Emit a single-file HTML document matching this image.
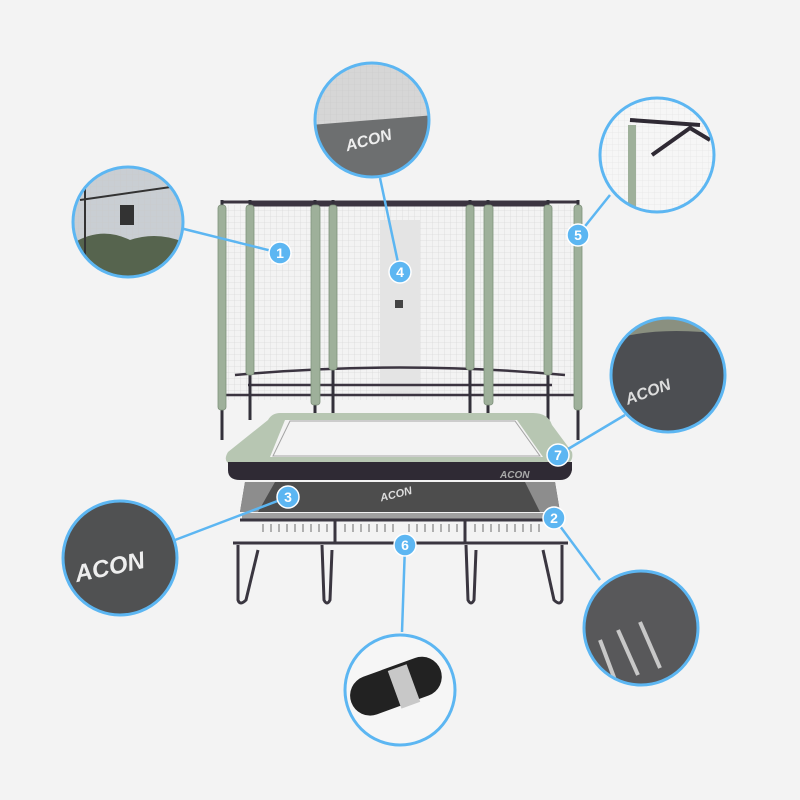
<!DOCTYPE html>
<html><head><style>
html,body{margin:0;padding:0;background:#f3f3f3;}
svg{display:block}
text{font-family:"Liberation Sans",sans-serif;font-weight:bold}
</style></head><body>
<svg width="800" height="800" viewBox="0 0 800 800" xmlns="http://www.w3.org/2000/svg">
<rect width="800" height="800" fill="#f3f3f3"/>
<defs>
<pattern id="net" width="6" height="6" patternUnits="userSpaceOnUse">
<path d="M0 0H6M0 0V6" stroke="#c9c9c9" stroke-width="0.6"/>
</pattern>
<clipPath id="c1"><circle cx="128" cy="222" r="55"/></clipPath>
<clipPath id="c4"><circle cx="372" cy="120" r="57"/></clipPath>
<clipPath id="c5"><circle cx="657" cy="155" r="57"/></clipPath>
<clipPath id="c2"><circle cx="641" cy="628" r="57"/></clipPath>
<clipPath id="c7"><circle cx="668" cy="375" r="57"/></clipPath>
</defs>
<!-- net -->
<polygon points="222,205 578,205 578,400 222,400" fill="url(#net)" opacity="0.8"/>
<rect x="380" y="220" width="40" height="175" fill="#e4e4e4"/>
<rect x="395" y="300" width="8" height="8" fill="#444"/>
<path d="M222,202 L578,202 M250,205 L548,205" stroke="#3b3440" stroke-width="3" fill="none"/>
<path d="M235,375 Q400,360 565,375 M222,395 L578,395 M248,385 L552,385" stroke="#3b3440" stroke-width="2.5" fill="none"/>
<g stroke="#33303a" stroke-width="3">
<line x1="222" y1="200" x2="222" y2="440"/><line x1="250" y1="200" x2="250" y2="420"/>
<line x1="315" y1="200" x2="315" y2="445"/><line x1="333" y1="200" x2="333" y2="420"/>
<line x1="470" y1="200" x2="470" y2="420"/><line x1="488" y1="200" x2="488" y2="445"/>
<line x1="548" y1="200" x2="548" y2="420"/><line x1="578" y1="200" x2="578" y2="440"/>
</g>
<g fill="#9eb09a" stroke="#7e917b" stroke-width="0.8">
<rect x="218" y="205" width="8" height="205" rx="3"/><rect x="246" y="205" width="8" height="170" rx="3"/>
<rect x="311" y="205" width="9" height="200" rx="3"/><rect x="329" y="205" width="8" height="165" rx="3"/>
<rect x="466" y="205" width="8" height="165" rx="3"/><rect x="484" y="205" width="9" height="200" rx="3"/>
<rect x="544" y="205" width="8" height="170" rx="3"/><rect x="574" y="205" width="8" height="205" rx="3"/>
</g>
<!-- pad -->
<path d="M280,413 L533,413 Q548,413 552,425 L572,452 Q574,462 565,465 L232,465 Q222,462 228,452 L268,420 Q272,413 280,413 Z" fill="#b7c6b2"/>
<path d="M285,420 L517,420 L543,457 L270,457 Z" fill="#f3f3f3"/>
<path d="M290,421 L515,421 L540,456 L273,456 Z" fill="none" stroke="#555" stroke-width="1" opacity="0.5"/>
<path d="M228,462 L572,462 L572,470 Q570,480 560,480 L240,480 Q228,480 228,470 Z" fill="#2f2a34"/>
<text x="500" y="478" fill="#aaa" font-size="10" font-style="italic">ACON</text>
<!-- mat -->
<path d="M245,482 L555,482 L560,512 L240,512 Z" fill="#4d4d4d"/>
<path d="M245,482 L275,482 L258,512 L240,512 Z M525,482 L555,482 L560,512 L540,512 Z" fill="#8d8d8d"/>
<text x="380" y="498" fill="#ddd" font-size="11" font-style="italic" transform="rotate(-14 395 495)">ACON</text>
<rect x="242" y="513" width="320" height="6" fill="#a0a0a0"/>
<g stroke="#999" stroke-width="1.5">
<path d="M263,524v8M271,524v8M279,524v8M287,524v8M295,524v8M303,524v8M311,524v8M319,524v8M327,524v8M345,524v8M353,524v8M361,524v8M369,524v8M377,524v8M385,524v8M393,524v8M409,524v8M417,524v8M425,524v8M433,524v8M441,524v8M449,524v8M457,524v8M475,524v8M483,524v8M491,524v8M499,524v8M507,524v8M515,524v8M523,524v8M531,524v8M539,524v8"/>
</g>
<g stroke="#3a3640" stroke-width="3" fill="none">
<path d="M240,520 L560,520"/>
<path d="M233,543 L568,543"/>
<path d="M238,545 L238,600 Q240,606 246,600 L258,550"/>
<path d="M322,545 L324,600 Q327,606 330,600 L332,550"/>
<path d="M466,545 L468,600 Q471,606 474,600 L476,550"/>
<path d="M562,545 L562,600 Q560,606 554,600 L543,550"/>
<path d="M335,520 L335,543 M465,520 L465,543"/>
</g>
<!-- connectors -->
<g stroke="#5cb6f2" stroke-width="2.5" fill="none">
<line x1="180" y1="228" x2="280" y2="253"/>
<line x1="380" y1="178" x2="400" y2="272"/>
<line x1="610" y1="195" x2="578" y2="235"/>
<line x1="625" y1="415" x2="558" y2="455"/>
<line x1="175" y1="540" x2="288" y2="497"/>
<line x1="600" y1="580" x2="554" y2="518"/>
<line x1="402" y1="632" x2="405" y2="545"/>
</g>
<!-- circle contents -->
<g clip-path="url(#c1)">
<rect x="70" y="165" width="120" height="115" fill="#c9ced3"/>
<rect x="70" y="165" width="120" height="115" fill="url(#net)"/>
<path d="M70,245 Q100,225 130,240 Q160,230 190,245 L190,280 L70,280Z" fill="#56644e"/>
<rect x="120" y="205" width="14" height="20" fill="#333"/>
<path d="M80,200 L185,185 M85,180 L85,280" stroke="#333" stroke-width="2"/>
</g>
<g clip-path="url(#c4)">
<rect x="310" y="60" width="125" height="120" fill="#d6d6d6"/>
<rect x="310" y="60" width="125" height="120" fill="url(#net)"/>
<path d="M310,125 L435,115 L435,180 L310,180Z" fill="#6d6f70"/>
<text x="345" y="145" fill="#eee" font-size="16" font-style="italic" transform="rotate(-15 370 140)">ACON</text>
</g>
<g clip-path="url(#c5)">
<rect x="598" y="96" width="118" height="118" fill="#f6f6f6"/>
<rect x="598" y="96" width="118" height="118" fill="url(#net)" opacity="0.5"/>
<rect x="628" y="125" width="8" height="95" fill="#9eb09a"/>
<path d="M630,120 L700,125 M652,155 L690,128 L710,140" stroke="#2f2a34" stroke-width="4" fill="none"/>
</g>
<g clip-path="url(#c7)">
<rect x="610" y="318" width="118" height="118" fill="#4c4e52"/>
<path d="M610,340 Q660,325 728,335 L728,318 L610,318Z" fill="#8a9080"/>
</g>
<g clip-path="url(#c2)">
<rect x="583" y="570" width="118" height="118" fill="#58585a"/>
<g stroke="#c8c8c8" stroke-width="4">
<line x1="600" y1="640" x2="615" y2="680"/><line x1="618" y1="630" x2="638" y2="675"/><line x1="640" y1="622" x2="660" y2="668"/>
</g>
</g>
<g stroke="#5cb6f2" stroke-width="3" fill="none">
<circle cx="128" cy="222" r="55"/>
<circle cx="372" cy="120" r="57"/>
<circle cx="657" cy="155" r="57"/>
<circle cx="668" cy="375" r="57"/>
<circle cx="120" cy="558" r="57" fill="#505152"/>
<circle cx="641" cy="628" r="57"/>
<circle cx="400" cy="690" r="55" fill="#f6f6f6"/>
</g>
<rect x="350" y="665" width="95" height="40" rx="20" transform="rotate(-20 400 690)" fill="#222"/>
<rect x="395" y="668" width="20" height="40" transform="rotate(-20 400 690)" fill="#c8c8c8"/>
<text x="75" y="575" fill="#eee" font-size="24" font-style="italic" transform="rotate(-12 110 570)">ACON</text>
<text x="625" y="400" fill="#ddd" font-size="16" font-style="italic" transform="rotate(-20 640 395)">ACON</text>
<!-- badges -->
<g fill="#5cb6f2" stroke="#fff" stroke-width="1.5">
<circle cx="280" cy="253" r="11"/><circle cx="400" cy="272" r="11"/><circle cx="578" cy="235" r="11"/>
<circle cx="558" cy="455" r="11"/><circle cx="288" cy="497" r="11"/><circle cx="554" cy="518" r="11"/><circle cx="405" cy="545" r="11"/>
</g>
<g fill="#fff" font-size="14" text-anchor="middle">
<text x="280" y="258">1</text><text x="400" y="277">4</text><text x="578" y="240">5</text>
<text x="558" y="460">7</text><text x="288" y="502">3</text><text x="554" y="523">2</text><text x="405" y="550">6</text>
</g>
</svg>
</body></html>
